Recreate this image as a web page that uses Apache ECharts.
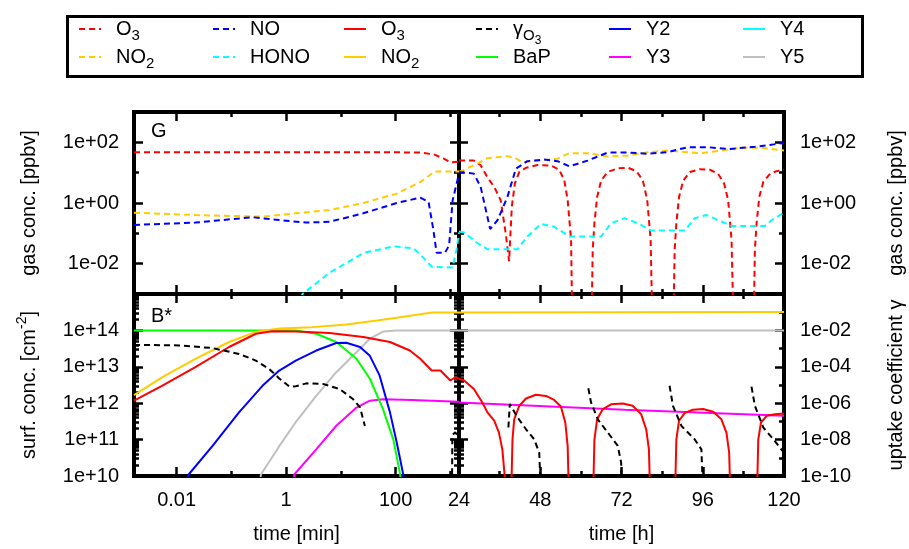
<!DOCTYPE html>
<html>
<head>
<meta charset="utf-8">
<script src="https://cdn.jsdelivr.net/npm/echarts@6/dist/echarts.min.js"></script>
<style>
  html, body { margin: 0; padding: 0; background: #fff; }
  #main { width: 909px; height: 549px; }
</style>
</head>
<body>
<div id="main"></div>
<script>
const FONT = 'Liberation Sans, Arial, sans-serif'

// ---- axis ticks ----
const T0 = 0.1 / 60            // left edge of the time axis, min
const minMajor = [0.01, 1, 100]
const minMinor = [0.1, 10, 1000]
const hMajor = [24, 48, 72, 96, 120]
const hMinor = [36, 60, 84, 108]
const gasMajor = [1e-2, 1, 1e2]
const gasMinor = [1e-1, 10]
const surfMajor = [1e10, 1e11, 1e12, 1e13, 1e14]
const gamMajor = [1e-10, 1e-8, 1e-6, 1e-4, 1e-2]
const gamMinor = [1e-9, 1e-7, 1e-5, 1e-3, 1e-1]

// ---- gas phase, first day: [time min, ppbv] ----
const o3GasMin = [[T0, 47], [1, 47], [100, 47], [280, 46], [500, 40], [760, 29], [1000, 22], [1440, 23]]
const no2GasMin = [[T0, 0.48], [0.022, 0.40], [0.37, 0.355], [1.5, 0.457], [6.2, 0.59], [25.7, 1.0], [105, 2.04], [282, 4.9], [525, 11], [1000, 11], [1440, 11]]
const noGasMin = [[T0, 0.19], [0.022, 0.226], [0.24, 0.34], [0.75, 0.275], [2.3, 0.226], [6.2, 0.24], [25.7, 0.457], [105, 1.0], [282, 1.5], [400, 1.1], [490, 0.13], [560, 0.023], [800, 0.023], [950, 0.04], [1100, 1.2], [1440, 9.3]]
const honoMin = [[1, 0.0001], [2, 0.001], [6.2, 0.005], [25.7, 0.0224], [91, 0.037], [214, 0.032], [324, 0.0155], [457, 0.0079], [1100, 0.0075], [1300, 0.03], [1440, 0.105]]

// ---- gas phase, days 2-5: [time h, ppbv] ----
const o3GasH = [[24, 25], [28.4, 25], [30.4, 17.5], [32.4, 7], [34.4, 3.4], [36.3, 1.24], [37.8, 0.1], [38.8, 0.012],
  [39.6, 0.76], [40.5, 4.4], [41.8, 10.5], [43.8, 14.5], [47.2, 17.8], [51.2, 17], [53.6, 12.5], [55.1, 5.6], [56.1, 1.24], [57.1, 0.062], [57.6, 1e-5],
  [63, 1e-5], [63.5, 0.029], [64, 0.215], [64.8, 1.58], [66, 5.6], [67.9, 10.5], [70.9, 14], [73.9, 14.5], [76.4, 11.2], [78.3, 5.6], [79.6, 1.24], [80.6, 0.062], [81.3, 1e-5],
  [87.2, 1e-5], [87.7, 0.029], [88.2, 0.215], [89, 1.58], [90.2, 5.4], [92.2, 10.5], [95.1, 13], [98.1, 12.5], [100.5, 9.3], [102.3, 4.4], [103.5, 1.24], [104.5, 0.062], [105.3, 1e-5],
  [110.9, 1e-5], [111.4, 0.029], [111.9, 0.215], [112.7, 1.58], [113.9, 5], [115.9, 9.3], [117.8, 11.2], [120, 12.5]]
const noGasH = [[24, 10.5], [28.4, 9.3], [30.4, 3.4], [33.2, 0.138], [35.4, 0.275], [38.3, 1.58], [40.8, 13.5], [44.2, 24], [49.2, 27], [53.1, 24], [56.6, 16.2], [62, 25], [67.9, 46], [73.9, 46], [79.8, 42], [85.7, 48], [91.6, 69], [97.6, 69], [103.5, 60], [111.4, 71], [120, 95]]
const no2GasH = [[24, 10.5], [28.4, 17.5], [32.4, 30], [38.3, 35], [40.3, 32], [42.7, 22], [48.2, 25], [53.1, 29], [56.6, 44], [62, 44], [67.9, 34], [73.9, 37], [79.8, 47], [85.7, 54], [91.6, 47], [95.6, 44], [101.5, 54], [107.5, 66], [113.4, 66], [120, 54]]
const honoH = [[24, 0.115], [25.5, 0.106], [29.4, 0.048], [32.4, 0.03], [41.3, 0.03], [44.2, 0.079], [48.2, 0.204], [52.1, 0.166], [56.6, 0.079], [66, 0.079], [68.9, 0.214], [72.9, 0.316], [76.8, 0.214], [80.8, 0.123], [90.7, 0.123], [93.6, 0.316], [97.1, 0.40], [100.5, 0.275], [104.5, 0.176], [114.4, 0.176], [116.4, 0.275], [120, 0.48]]

// ---- surface, first day: [time min, cm-2] ----
const o3SurfMin = [[T0, 1.17e12], [0.0054, 3e12], [0.022, 9.8e12], [0.091, 3.5e13], [0.28, 8.1e13], [0.56, 9.5e13], [1.5, 9.3e13], [6.2, 8.5e13], [25.7, 6.6e13], [79, 4.8e13], [182, 2.8e13], [282, 1.66e13], [457, 7.9e12], [660, 7.9e12], [1000, 4.2e12], [1230, 5.1e12], [1440, 4.8e12]]
const no2SurfMin = [[T0, 1.66e12], [0.0054, 5.1e12], [0.022, 1.66e13], [0.091, 4.8e13], [0.28, 9.1e13], [0.75, 1.12e14], [3.0, 1.23e14], [12.6, 1.45e14], [50, 1.9e14], [200, 2.57e14], [470, 3.1e14], [1440, 3.1e14]]
const bapMin = [[T0, 1e14], [1.5, 1e14], [3.55, 8.1e13], [8.26, 4.8e13], [19.3, 1.66e13], [33.9, 4.7e12], [58.9, 6.9e11], [91, 1e11], [120, 1.2e10], [150, 1e9]]
const y2Min = [[0.012, 1e9], [0.0166, 1.1e10], [0.045, 6.6e10], [0.138, 5.6e11], [0.37, 3.0e12], [0.75, 7.9e12], [1.5, 1.48e13], [3.55, 2.8e13], [8.26, 4.5e13], [12.6, 4.6e13], [22.4, 3.5e13], [33.9, 2.0e13], [51, 5.8e12], [79, 5.6e11], [105, 8.3e10], [138, 1.1e10], [160, 1e9]]
const y3Min = [[1.35, 1e9], [1.41, 1.1e10], [3.55, 5.4e10], [8.26, 2.4e11], [19.3, 7.6e11], [33.9, 1.17e12], [58.9, 1.29e12], [200, 1.23e12], [1440, 1.1e12]]
const y5Min = [[0.3, 1e9], [0.347, 1.1e10], [0.75, 6.6e10], [1.5, 3.0e11], [3.55, 1.58e12], [8.26, 7.1e12], [19.3, 2.5e13], [33.9, 5.9e13], [58.9, 9.3e13], [105, 1e14], [1440, 1e14]]
const gamMinA = [[T0, 1.6e-3], [0.011, 1.5e-3], [0.045, 1.07e-3], [0.138, 5.1e-4], [0.28, 2.2e-4], [0.49, 7.6e-5], [0.75, 2.3e-5], [1.15, 8.1e-6], [1.5, 8.5e-6], [2.34, 1.23e-5], [4.7, 1.15e-5], [9.5, 6e-6], [16.6, 1.7e-6], [22.4, 5.9e-7], [27.5, 5.6e-8]]
const gamMinB = [[1070, 1e-11], [1090, 1.8e-8], [1230, 2.5e-8], [1440, 1.3e-8]]

// ---- surface, days 2-5: [time h, cm-2] ----
const o3SurfH = [[24, 4.7e12], [25.5, 4.2e12], [28.4, 2.45e12], [30.9, 1.05e12], [32.4, 5.6e11], [34.4, 3.3e11], [35.8, 1.55e11], [36.8, 5.4e10], [37.5, 1e10], [37.8, 1e9],
  [39.3, 1e9], [39.8, 1e11], [40.3, 3.6e11], [41.8, 8.5e11], [43.8, 1.35e12], [46.7, 1.7e12], [49.7, 1.58e12], [52.1, 1.23e12], [54.1, 8.1e11], [55.4, 2.95e11], [56.1, 6.6e10], [56.6, 1e9],
  [63.5, 1e9], [64, 1e11], [64.8, 3.6e11], [66.5, 6.9e11], [68.9, 9.3e11], [72.4, 9.8e11], [75.3, 8.5e11], [77.8, 5e11], [79.3, 1.9e11], [80.1, 5.4e10], [80.6, 1e9],
  [87.7, 1e9], [88.2, 1e11], [89, 3.3e11], [90.7, 5.4e11], [93.1, 6.6e11], [96.1, 6.9e11], [99.1, 5.8e11], [101.5, 3.6e11], [103, 1.55e11], [103.8, 4.4e10], [104.3, 1e9],
  [111.9, 1e9], [112.4, 1e11], [113.2, 2.95e11], [114.9, 4.5e11], [117.3, 5e11], [120, 5.2e11]]
const no2SurfH = [[24, 3.1e14], [120, 3.2e14]]
const y3H = [[24, 1.05e12], [72.9, 6.6e11], [120, 4.5e11]]
const y5H = [[24, 1e14], [120, 1e14]]
const gamH = [
  [[38.6, 4.6e-8], [39.0, 8.9e-7], [41.3, 1.66e-7], [43.8, 3.7e-8], [46.2, 1.05e-8], [47.7, 1.9e-9], [48.2, 1e-11]],
  [[62.2, 6.6e-6], [63.0, 1.1e-6], [65.0, 1.3e-7], [67.9, 2.5e-8], [70.9, 4.5e-9], [71.9, 5.4e-10], [72.1, 1e-11]],
  [[86.2, 9.1e-6], [87.2, 7.2e-7], [89.7, 5.6e-8], [93.6, 1.05e-8], [95.6, 2.9e-9], [96.1, 1e-11]],
  [[110.4, 8.1e-6], [111.4, 7.2e-7], [113.9, 4.6e-8], [117.3, 8.3e-9], [120, 1.9e-9]]
]

// ---- text styles ----
// axis names (line box 20 px)
const NAME_RICH = {
  n: { fontSize: 20, fontFamily: FONT, color: '#000', lineHeight: 20 },
  sup: { fontSize: 14, fontFamily: FONT, color: '#000', lineHeight: 20, padding: [0, 0, 14, 0] }
}
// legend: every token sits in a 40 px box so rows stay aligned
const LEG_RICH = {
  n: { fontSize: 20, fontFamily: FONT, color: '#000', height: 20, lineHeight: 40, padding: [10, 0, 10, 0] },
  s: { fontSize: 15, fontFamily: FONT, color: '#000', height: 16, lineHeight: 40, padding: [19, 0, 5, 0] },
  ss: { fontSize: 12, fontFamily: FONT, color: '#000', height: 12, lineHeight: 40, padding: [26, 0, 2, 0] }
}
const fmtExp = v => {
  const e = Math.round(Math.log10(v))
  return '1e' + (e < 0 ? '-' : '+') + String(Math.abs(e)).padStart(2, '0')
}
const fmtNum = v => String(+Number(v).toPrecision(6))

const xAxes = []
const yAxes = []
function addAxes(list, dim, grid, sc, opt) {
  const first = list.length
  const sides = dim === 'x' ? ['bottom', 'top'] : ['left', 'right']
  const mainSide = opt.side || sides[0]
  const other = mainSide === sides[0] ? sides[1] : sides[0]
  const mk = (pos, ticks, len, labels) => {
    const ax = {
      gridIndex: grid, type: sc.type, min: sc.min, max: sc.max, position: pos,
      axisLine: { show: false }, splitLine: { show: false },
      axisTick: { show: true, inside: true, length: len, customValues: ticks, lineStyle: { color: '#000', width: 2.5 } },
      axisLabel: labels
        ? { show: true, customValues: sc.majors, formatter: sc.fmt, margin: opt.margin, color: '#000', fontSize: 20, fontFamily: FONT }
        : { show: false }
    }
    if (sc.type === 'log') ax.logBase = 10
    return ax
  }
  const main = mk(mainSide, sc.majors, 9, !!opt.labels)
  if (opt.name) {
    Object.assign(main, {
      name: opt.name, nameLocation: 'middle', nameGap: opt.nameGap,
      nameTextStyle: { fontSize: 20, fontFamily: FONT, color: '#000', lineHeight: 20, rich: NAME_RICH }
    })
  }
  list.push(main, mk(mainSide, sc.minors, 5, false))
  if (opt.mirror) list.push(mk(other, sc.majors, 9, false), mk(other, sc.minors, 5, false))
  return first
}

const surfMinor = []
for (let e = 10; e < 15; e++) for (let m = 2; m < 10; m++) surfMinor.push(m * Math.pow(10, e))

const minScale = { type: 'log', min: T0, max: 1440, majors: minMajor, minors: minMinor, fmt: fmtNum }
const hScale = { type: 'value', min: 24, max: 120, majors: hMajor, minors: hMinor, fmt: fmtNum }
const gasScale = { type: 'log', min: 1e-3, max: 1e3, majors: gasMajor, minors: gasMinor, fmt: fmtExp }
const surfScale = { type: 'log', min: 1e10, max: 1e15, majors: surfMajor, minors: surfMinor, fmt: fmtExp }
const gamScale = { type: 'log', min: 1e-10, max: 1, majors: gamMajor, minors: gamMinor, fmt: fmtExp }

const xTL = addAxes(xAxes, 'x', 0, minScale, { mirror: true })
const xTR = addAxes(xAxes, 'x', 1, hScale, { mirror: true })
const xBL = addAxes(xAxes, 'x', 2, minScale, { mirror: true, labels: true, margin: 14, name: 'time [min]', nameGap: 48 })
const xBR = addAxes(xAxes, 'x', 3, hScale, { mirror: true, labels: true, margin: 14, name: 'time [h]', nameGap: 48 })

const yTL = addAxes(yAxes, 'y', 0, gasScale, { mirror: true, labels: true, margin: 15, name: 'gas conc. [ppbv]', nameGap: 95 })
const yTR = addAxes(yAxes, 'y', 1, gasScale, { mirror: true, side: 'right', labels: true, margin: 16, name: 'gas conc. [ppbv]', nameGap: 102 })
const yBL = addAxes(yAxes, 'y', 2, surfScale, { mirror: true, labels: true, margin: 15, name: '{n|surf. conc. [cm}{sup|-2}{n|]}', nameGap: 95 })
const yBLg = yAxes.length
yAxes.push({ gridIndex: 2, type: 'log', logBase: 10, min: 1e-10, max: 1, show: false })
const yBR = addAxes(yAxes, 'y', 3, surfScale, {})
const yBRg = addAxes(yAxes, 'y', 3, gamScale, { side: 'right', labels: true, margin: 16, name: 'uptake coefficient γ', nameGap: 102 })

function line(name, data, xi, yi, color, dashed) {
  return {
    type: 'line', name, data, xAxisIndex: xi, yAxisIndex: yi,
    symbol: 'none', showSymbol: false, smooth: false, clip: true,
    lineStyle: { color, width: 2, type: dashed ? [6, 4] : 'solid' },
    itemStyle: { color }, emphasis: { disabled: true }
  }
}

const RED = '#ff0000', BLUE = '#0000ff', CYAN = '#00ffff', GOLD = '#ffcc00'
const GREEN = '#00ff00', MAG = '#ff00ff', GREY = '#c0c0c0', BLACK = '#000000'

const series = [
  line('O3 gas', o3GasMin, xTL, yTL, RED, true),
  line('O3 gas', o3GasH, xTR, yTR, RED, true),
  line('NO2 gas', no2GasMin, xTL, yTL, GOLD, true),
  line('NO2 gas', no2GasH, xTR, yTR, GOLD, true),
  line('NO', noGasMin, xTL, yTL, BLUE, true),
  line('NO', noGasH, xTR, yTR, BLUE, true),
  line('HONO', honoMin, xTL, yTL, CYAN, true),
  line('HONO', honoH, xTR, yTR, CYAN, true),
  line('Y5', y5Min, xBL, yBL, GREY, false),
  line('Y5', y5H, xBR, yBR, GREY, false),
  line('Y4', [], xBL, yBL, CYAN, false),
  line('Y3', y3Min, xBL, yBL, MAG, false),
  line('Y3', y3H, xBR, yBR, MAG, false),
  line('BaP', bapMin, xBL, yBL, GREEN, false),
  line('Y2', y2Min, xBL, yBL, BLUE, false),
  line('NO2 surf', no2SurfMin, xBL, yBL, GOLD, false),
  line('NO2 surf', no2SurfH, xBR, yBR, GOLD, false),
  line('O3 surf', o3SurfMin, xBL, yBL, RED, false),
  line('O3 surf', o3SurfH, xBR, yBR, RED, false),
  line('gamma', gamMinA, xBL, yBLg, BLACK, true),
  line('gamma', gamMinB, xBL, yBLg, BLACK, true)
]
gamH.forEach(seg => series.push(line('gamma', seg, xBR, yBRg, BLACK, true)))

// legend: 2 rows x 6 columns; every label carries the same token set
const legendText = {
  'O3 gas': '{n|O}{s|3}{ss| }', 'NO2 gas': '{n|NO}{s|2}{ss| }', 'NO': '{n|NO}{s| }{ss| }', 'HONO': '{n|HONO}{s| }{ss| }',
  'O3 surf': '{n|O}{s|3}{ss| }', 'NO2 surf': '{n|NO}{s|2}{ss| }', 'gamma': '{n|γ}{s|O}{ss|3}', 'BaP': '{n|BaP}{s| }{ss| }',
  'Y2': '{n|Y2}{s| }{ss| }', 'Y3': '{n|Y3}{s| }{ss| }', 'Y4': '{n|Y4}{s| }{ss| }', 'Y5': '{n|Y5}{s| }{ss| }'
}
const legendCols = [['O3 gas', 'NO2 gas'], ['NO', 'HONO'], ['O3 surf', 'NO2 surf'], ['gamma', 'BaP'], ['Y2', 'Y3'], ['Y4', 'Y5']]
const legendLeft = [78, 212, 343, 475, 608, 742]
const legendTop = [9, 37]
const legends = []
legendCols.forEach((col, i) => col.forEach((name, r) => legends.push({
  data: [name], left: legendLeft[i], top: legendTop[r], padding: 0,
  itemWidth: 22, itemHeight: 20, selectedMode: false,
  itemStyle: { opacity: 0 },
  formatter: n => legendText[n],
  textStyle: { fontSize: 20, fontFamily: FONT, color: '#000', padding: [0, 0, 0, 10], rich: LEG_RICH }
})))

const gridBase = { show: true, borderColor: '#000', borderWidth: 4, backgroundColor: 'transparent', containLabel: false }
const option = {
  animation: false,
  backgroundColor: '#fff',
  grid: [
    Object.assign({ left: 134, top: 112, width: 325, height: 182 }, gridBase),
    Object.assign({ left: 459, top: 112, width: 325, height: 182 }, gridBase),
    Object.assign({ left: 134, top: 294, width: 325, height: 182 }, gridBase),
    Object.assign({ left: 459, top: 294, width: 325, height: 182 }, gridBase)
  ],
  legend: legends,
  xAxis: xAxes,
  yAxis: yAxes,
  series,
  graphic: [
    { type: 'rect', left: 65, top: 14, shape: { width: 795, height: 60 }, style: { fill: 'none', stroke: '#000', lineWidth: 3 }, z: 10 },
    { type: 'text', left: 151, top: 121, style: { text: 'G', fontSize: 20, fontFamily: FONT, fill: '#000' }, z: 10 },
    { type: 'text', left: 151, top: 306, style: { text: 'B*', fontSize: 20, fontFamily: FONT, fill: '#000' }, z: 10 }
  ]
}

const chart = echarts.init(document.getElementById('main'), null, { renderer: 'canvas' })
chart.setOption(option)
</script>
</body>
</html>
